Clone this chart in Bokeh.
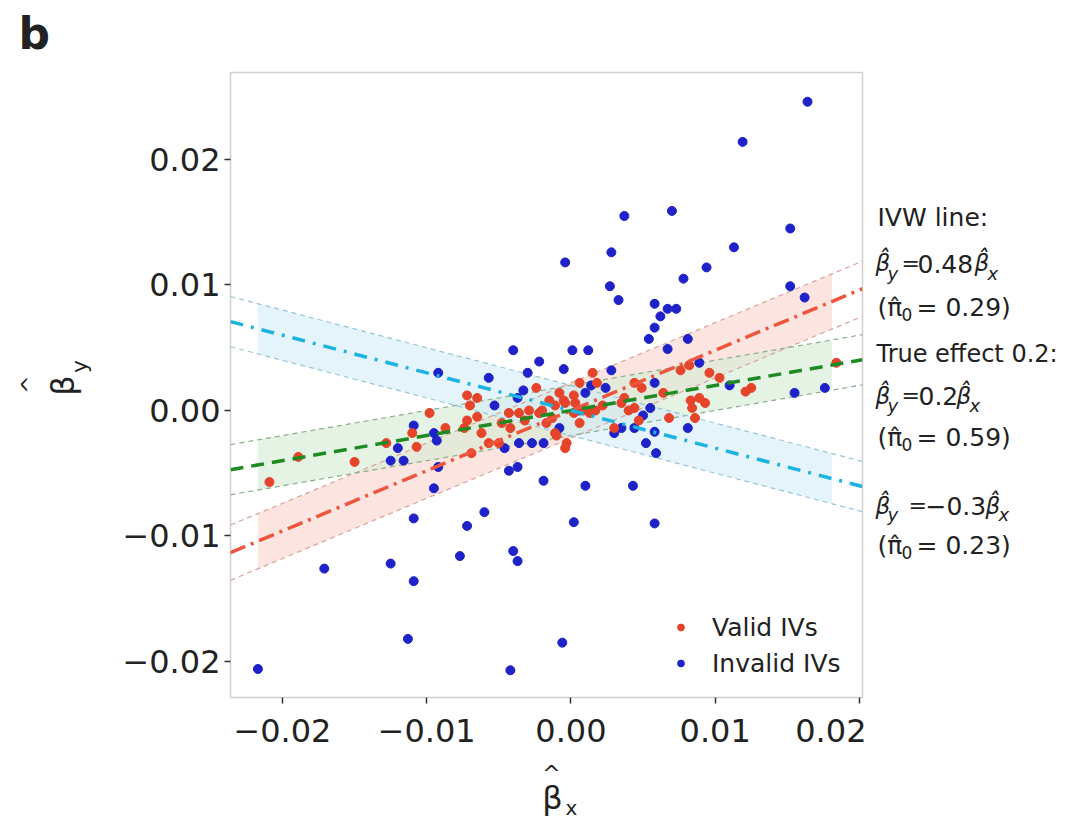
import numpy as np
from bokeh.plotting import figure
from bokeh.layouts import column, row
from bokeh.models import Range1d, Label, Legend, LegendItem, FixedTicker
from bokeh.embed import file_html
from bokeh.resources import INLINE

# ---------------- data ----------------
valid_x = [-0.0209, -0.0189, -0.0150, -0.0128, -0.0107, -0.0110, -0.0098, -0.0087,
           -0.0072, -0.0065, -0.0070, -0.0072, -0.0065, -0.0062, -0.0057, -0.0050,
           -0.0069, -0.0048, -0.0043, -0.0036, -0.0032, -0.0024, -0.0020, -0.0017,
           -0.0011, -0.0005, 0.0002, 0.0006, 0.0002, -0.0003, -0.0011, 0.0015,
           0.0018, 0.0044, 0.0049, 0.0064, 0.0076, 0.0082, 0.0096, 0.0103,
           0.0083, 0.0089, 0.0093, 0.0084, 0.0068, 0.0086, -0.0015, -0.0008,
           -0.0004, 0.0003, 0.0008, 0.0013, 0.0017, 0.0022, 0.0035, 0.0040,
           0.0044, 0.0047, 0.0037, 0.0030, 0.0006, -0.0010, -0.0004, -0.0013,
           0.0121, 0.0125, 0.0184, -0.0074, -0.0042, -0.0029, -0.0022]
valid_y = [-0.0057, -0.0037, -0.0041, -0.0026, -0.0029, -0.0018, -0.0002, -0.0014,
           0.0012, 0.0010, 0.0004, -0.0008, -0.0005, -0.0018, -0.0026, -0.0026,
           -0.0034, -0.0010, -0.0002, -0.0002, -0.0008, 0.0018, 0.0000, -0.0010,
           0.0004, 0.0008, 0.0012, 0.0022, -0.0002, -0.0026, -0.0018, 0.0030,
           0.0022, 0.0022, 0.0018, 0.0014, 0.0032, 0.0036, 0.0030, 0.0026,
           0.0008, 0.0010, 0.0006, 0.0002, -0.0006, -0.0006, 0.0008, 0.0014,
           0.0006, 0.0006, 0.0000, -0.0002, 0.0000, 0.0004, 0.0006, 0.0000,
           0.0002, -0.0008, 0.0010, -0.0014, -0.0010, -0.0020, -0.0030, -0.0006,
           0.0015, 0.0018, 0.0038, -0.0014, -0.0014, 0.0000, -0.0002]

invalid_x = [0.0164, 0.0119, 0.0070, 0.0037, 0.0152, 0.0113, 0.0028, -0.0004,
             0.0094, 0.0078, 0.0027, 0.0033, 0.0152, 0.0162, 0.0058, 0.0067,
             0.0073, 0.0062, 0.0058, 0.0054, 0.0081, 0.0001, 0.0012, 0.0067,
             -0.0005, 0.0028, 0.0176, -0.0040, -0.0022, -0.0030, -0.0057, -0.0092,
             -0.0033, -0.0037, -0.0053, -0.0109, -0.0095, -0.0093, -0.0120, -0.0125,
             -0.0116, -0.0092, -0.0095, -0.0109, -0.0060, -0.0072, -0.0077, -0.0040,
             -0.0037, -0.0125, -0.0171, -0.0109, -0.0113, -0.0217, -0.0042, -0.0006,
             -0.0043, -0.0019, -0.0036, -0.0027, -0.0046, -0.0008, 0.0010, 0.0043,
             0.0002, 0.0058, 0.0030, 0.0050, 0.0058, 0.0052, 0.0059, 0.0081,
             0.0155, 0.0089, 0.0110, 0.0058, 0.0014, 0.0010, 0.0024, 0.0055,
             0.0035, 0.0044, -0.0019, -0.0037, 0.0006]
invalid_y = [0.0246, 0.0214, 0.0159, 0.0155, 0.0145, 0.0130, 0.0126, 0.0118,
             0.0114, 0.0105, 0.0099, 0.0088, 0.0099, 0.0090, 0.0085, 0.0081,
             0.0081, 0.0075, 0.0066, 0.0057, 0.0057, 0.0048, 0.0048, 0.0049,
             0.0033, 0.0032, 0.0018, 0.0048, 0.0039, 0.0030, 0.0026, 0.0030,
             0.0016, 0.0010, 0.0004, -0.0012, -0.0018, -0.0024, -0.0030, -0.0040,
             -0.0040, -0.0045, -0.0062, -0.0086, -0.0081, -0.0092, -0.0116, -0.0112,
             -0.0120, -0.0122, -0.0126, -0.0136, -0.0182, -0.0206, -0.0207, -0.0185,
             -0.0048, -0.0056, -0.0026, -0.0026, -0.0030, -0.0014, -0.0060, -0.0060,
             -0.0089, -0.0090, -0.0018, -0.0004, -0.0017, -0.0026, -0.0034, -0.0014,
             0.0014, 0.0038, 0.0020, 0.0022, 0.0020, 0.0014, 0.0018, 0.0002,
             -0.0014, -0.0014, -0.0026, -0.0045, 0.0000]

line_names = ["IVW", "True effect", "Invalid"]
line_slopes = [0.48, 0.2, -0.3]
band_half_widths = [0.0022, 0.0020, 0.0020]
band_x_extent = [-0.0217, 0.0181]

x_ticks = [-0.02, -0.01, 0.0, 0.01, 0.02]
x_tick_labels = ["\u22120.02", "\u22120.01", "0.00", "0.01", "0.02"]
y_ticks = [-0.02, -0.01, 0.0, 0.01, 0.02]
y_tick_labels = ["\u22120.02", "\u22120.01", "0.00", "0.01", "0.02"]

legend_labels = ["Valid IVs", "Invalid IVs"]

# ---------------- styles ----------------
RED_PT = "#E5432A"
BLUE_PT = "#1E22C8"
LINE_COLORS = ["#EE553E", "#1E8A22", "#1DB3E0"]
LINE_DASH = ["16 6 3 6", "13 8", "13 8 3 8"]
FILL_COLORS = ["#FAD3CC", "#D3EBD3", "#D3ECF8"]
BOUND_COLORS = ["#D8A49C", "#8AAE8A", "#98C6D6"]
FONT = "DejaVu Sans"
TXT = "#222222"

X0, X1 = -0.02360, 0.02021
Y0, Y1 = -0.02287, 0.02693

BT, BB = 4, 60   # main panel top / bottom borders

# ---------------- main panel ----------------
p = figure(frame_width=632, frame_height=625,
           min_border_left=122, min_border_right=4,
           min_border_top=BT, min_border_bottom=BB,
           x_range=Range1d(X0, X1), y_range=Range1d(Y0, Y1),
           output_backend="svg", toolbar_location=None,
           background_fill_color="white", border_fill_color="white")

p.xgrid.visible = False
p.ygrid.visible = False
p.outline_line_color = "#CFCFCF"
p.outline_line_width = 1.5

for ax, ticks, labels in ((p.xaxis[0], x_ticks, x_tick_labels), (p.yaxis[0], y_ticks, y_tick_labels)):
    ax.ticker = FixedTicker(ticks=ticks)
    ax.major_label_overrides = {t: l for t, l in zip(ticks, labels)}
    ax.axis_line_color = None
    ax.major_tick_line_color = "#333333"
    ax.major_tick_line_width = 1.5
    ax.major_tick_out = 6
    ax.major_tick_in = 0
    ax.minor_tick_line_color = None
    ax.major_label_text_font = FONT
    ax.major_label_text_font_size = "32px"
    ax.major_label_text_color = TXT
p.xaxis.major_label_standoff = 15
p.yaxis.major_label_standoff = 4

# bands
fx = np.array(band_x_extent)
lx = np.array([X0, X1])
for s, hw, fc in zip(line_slopes, band_half_widths, FILL_COLORS):
    p.varea(x=fx, y1=s * fx - hw, y2=s * fx + hw, fill_color=fc, fill_alpha=0.6)
for s, hw, bc in zip(line_slopes, band_half_widths, BOUND_COLORS):
    for sign in (-1, 1):
        p.line(lx, s * lx + sign * hw, line_color=bc, line_width=1.2, line_dash="5 4")

# points
r_inv = p.scatter(invalid_x, invalid_y, size=9, fill_color=BLUE_PT, line_color=BLUE_PT)
r_val = p.scatter(valid_x, valid_y, size=9, fill_color=RED_PT, line_color=RED_PT)

# lines
for s, c, d in zip(line_slopes, LINE_COLORS, LINE_DASH):
    p.line(lx, s * lx, line_color=c, line_width=3.5, line_dash=d)

legend = Legend(items=[LegendItem(label=legend_labels[0], renderers=[r_val]),
                       LegendItem(label=legend_labels[1], renderers=[r_inv])],
                location=(442, 16), orientation="vertical", padding=0, margin=0,
                spacing=0, glyph_width=17, glyph_height=36, label_height=36,
                label_standoff=23, label_text_font=FONT, label_text_font_size="25px",
                label_text_color=TXT, background_fill_alpha=0, border_line_alpha=0)
p.add_layout(legend)


# ---------------- text panels: ranges in page pixels ----------------
def aux(px0, px1, py0, py1, bt=0, bb=0):
    f = figure(frame_width=px1 - px0, frame_height=py1 - py0,
               x_range=Range1d(px0, px1), y_range=Range1d(py1, py0),
               min_border_left=0, min_border_right=0,
               min_border_top=bt, min_border_bottom=bb,
               x_axis_location=None, y_axis_location=None,
               toolbar_location=None, output_backend="svg",
               outline_line_color=None, background_fill_color="white",
               border_fill_color="white")
    f.grid.visible = False
    return f


def txt(f, t, px, py, size=25, style="normal", align="left", angle=0.0):
    f.add_layout(Label(x=px, y=py, text=t, text_font=FONT,
                       text_font_size=f"{size}px", text_font_style=style,
                       text_color=TXT, text_align=align, text_baseline="middle",
                       angle=angle))


top_f = aux(0, 1069, 0, 68)
left_f = aux(0, 108, 72, 697, BT, BB)
right_f = aux(866, 1069, 72, 697, BT, BB)
bottom_f = aux(0, 1069, 757, 821)

txt(top_f, "b", 18, 33, size=44, style="bold")

# axis labels
txt(bottom_f, "^", 551, 773, size=22, align="center")
txt(bottom_f, "\u03b2", 552, 797, size=32, align="center")
txt(bottom_f, "x", 571, 807, size=20, align="center")
txt(left_f, "^", 29, 384, size=22, align="center", angle=np.pi / 2)
txt(left_f, "\u03b2", 62, 385, size=32, align="center", angle=np.pi / 2)
txt(left_f, "y", 79, 366, size=22, align="center", angle=np.pi / 2)

BH = "\u03b2\u0302"
PH = "(\u03c0\u0302"


def pi_line(py, val):
    txt(right_f, PH, 877, py)
    txt(right_f, "0", 901, py + 7, size=17)
    txt(right_f, "= " + val + ")", 916, py)


# IVW
txt(right_f, "IVW line:", 877, 217)
txt(right_f, BH, 875, 262, size=23, style="italic")
txt(right_f, "y", 887, 273, size=18, style="italic")
txt(right_f, "=", 901, 263, size=22)
txt(right_f, "0.48", 917, 263)
txt(right_f, BH, 974, 262, size=23, style="italic")
txt(right_f, "x", 987, 273, size=18, style="italic")
pi_line(307, "0.29")
# true effect
txt(right_f, "True effect 0.2:", 876, 353, size=24)
txt(right_f, BH, 875, 395, size=23, style="italic")
txt(right_f, "y", 887, 405, size=18, style="italic")
txt(right_f, "=", 901, 395, size=22)
txt(right_f, "0.2", 918, 395)
txt(right_f, BH, 956, 395, size=23, style="italic")
txt(right_f, "x", 969, 405, size=18, style="italic")
pi_line(437, "0.59")
# invalid cluster
txt(right_f, BH, 875, 505, size=23, style="italic")
txt(right_f, "y", 887, 514, size=18, style="italic")
txt(right_f, "=", 908, 505, size=22)
txt(right_f, "\u22120.3", 925, 505)
txt(right_f, BH, 985, 505, size=23, style="italic")
txt(right_f, "x", 998, 514, size=18, style="italic")
pi_line(545, "0.23")

layout = column(top_f, row(left_f, p, right_f), bottom_f)
open("out.html", "w").write(file_html(layout, INLINE))
